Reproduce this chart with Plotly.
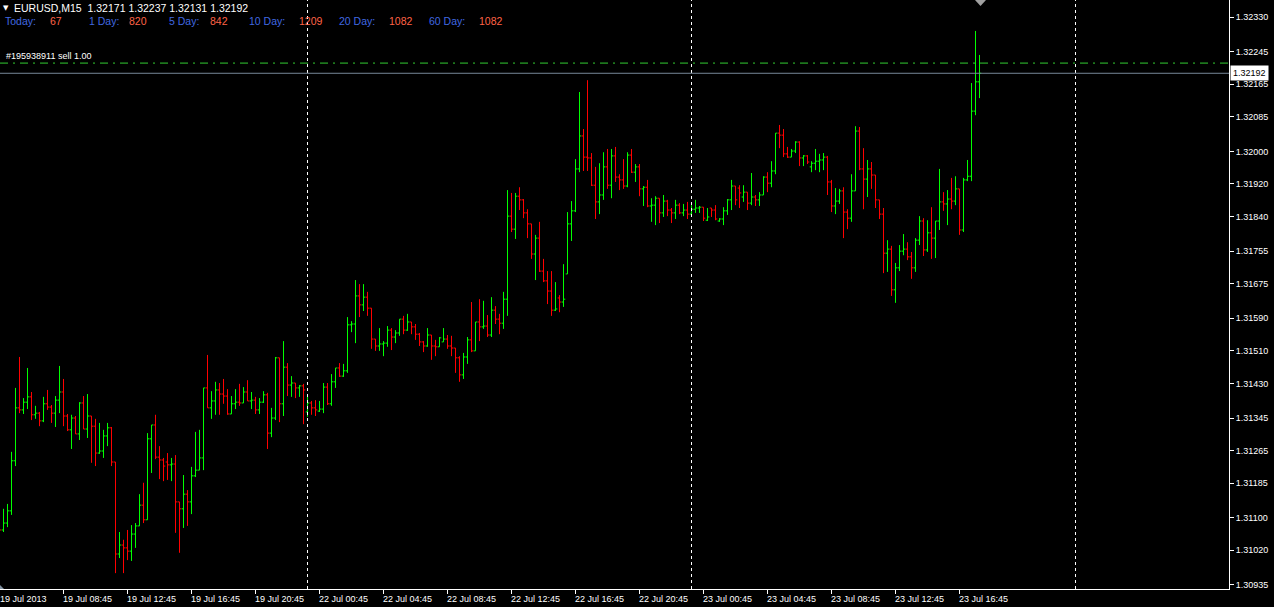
import pandas as pd
import plotly.graph_objects as go

symbol = "EURUSD,M15"

# bar times (weekend skipped, as on the MT4 chart)
times = (list(pd.date_range("2013-07-19 04:45", "2013-07-19 23:45", freq="15min"))
         + list(pd.date_range("2013-07-22 00:00", "2013-07-22 23:45", freq="15min"))
         + list(pd.date_range("2013-07-23 00:00", "2013-07-23 18:00", freq="15min")))

open_ = [
    1.31095, 1.31070, 1.31087, 1.31117, 1.31240, 1.31370, 1.31365, 1.31384, 1.31397, 1.31353,
    1.31357, 1.31338, 1.31380, 1.31372, 1.31357, 1.31389, 1.31409, 1.31350, 1.31316, 1.31345,
    1.31306, 1.31382, 1.31318, 1.31350, 1.31325, 1.31259, 1.31264, 1.31301, 1.31321, 1.31237,
    1.31011, 1.31033, 1.31026, 1.31018, 1.31060, 1.31080, 1.31131, 1.31095, 1.31294, 1.31328,
    1.31249, 1.31242, 1.31237, 1.31230, 1.31232, 1.31139, 1.31122, 1.31158, 1.31139, 1.31203,
    1.31217, 1.31247, 1.31419, 1.31370, 1.31387, 1.31414, 1.31404, 1.31399, 1.31355, 1.31380,
    1.31384, 1.31382, 1.31409, 1.31387, 1.31389, 1.31365, 1.31384, 1.31402, 1.31308, 1.31345,
    1.31493, 1.31380, 1.31470, 1.31426, 1.31431, 1.31419, 1.31424, 1.31360, 1.31382, 1.31370,
    1.31362, 1.31367, 1.31421, 1.31380, 1.31434, 1.31468, 1.31448, 1.31461, 1.31574, 1.31576,
    1.31645, 1.31623, 1.31642, 1.31615, 1.31539, 1.31522, 1.31527, 1.31529, 1.31561, 1.31544,
    1.31554, 1.31588, 1.31561, 1.31581, 1.31569, 1.31551, 1.31532, 1.31522, 1.31549, 1.31522,
    1.31520, 1.31532, 1.31539, 1.31522, 1.31517, 1.31493, 1.31451, 1.31495, 1.31537, 1.31510,
    1.31581, 1.31569, 1.31571, 1.31549, 1.31610, 1.31588, 1.31578, 1.31637, 1.31841, 1.31809,
    1.31890, 1.31881, 1.31849, 1.31822, 1.31748, 1.31787, 1.31706, 1.31682, 1.31657, 1.31610,
    1.31640, 1.31630, 1.31699, 1.31822, 1.31854, 1.31957, 1.32038, 1.31986, 1.31984, 1.31917,
    1.31876, 1.31893, 1.31962, 1.31917, 1.31989, 1.31937, 1.31930, 1.31915, 1.31991, 1.31949,
    1.31962, 1.31908, 1.31912, 1.31866, 1.31868, 1.31885, 1.31849, 1.31878, 1.31856, 1.31849,
    1.31868, 1.31849, 1.31856, 1.31846, 1.31858, 1.31861, 1.31863, 1.31831, 1.31861, 1.31856,
    1.31829, 1.31834, 1.31854, 1.31881, 1.31915, 1.31910, 1.31888, 1.31900, 1.31873, 1.31888,
    1.31881, 1.31893, 1.31937, 1.31922, 1.31952, 1.32045, 1.32040, 1.31994, 1.31986, 1.32001,
    1.32023, 1.31984, 1.31989, 1.31962, 1.31971, 1.31976, 1.31979, 1.31986, 1.31925, 1.31866,
    1.31878, 1.31903, 1.31851, 1.31836, 1.31903, 1.32050, 1.31957, 1.31932, 1.31957, 1.31942,
    1.31881, 1.31846, 1.31750, 1.31760, 1.31660, 1.31714, 1.31755, 1.31760, 1.31741, 1.31714,
    1.31782, 1.31829, 1.31758, 1.31800, 1.31787, 1.31829, 1.31876, 1.31871, 1.31883, 1.31878,
    1.31908, 1.31807, 1.31930, 1.31939, 1.32099, 1.32171,
]

high = [
    1.31131, 1.31122, 1.31134, 1.31262, 1.31419, 1.31495, 1.31394, 1.31468, 1.31409, 1.31375,
    1.31360, 1.31397, 1.31414, 1.31377, 1.31399, 1.31473, 1.31441, 1.31355, 1.31353, 1.31350,
    1.31384, 1.31399, 1.31404, 1.31350, 1.31343, 1.31333, 1.31316, 1.31333, 1.31323, 1.31237,
    1.31065, 1.31046, 1.31070, 1.31082, 1.31087, 1.31158, 1.31186, 1.31308, 1.31328, 1.31353,
    1.31276, 1.31247, 1.31259, 1.31247, 1.31254, 1.31139, 1.31205, 1.31168, 1.31225, 1.31311,
    1.31316, 1.31419, 1.31500, 1.31411, 1.31434, 1.31431, 1.31441, 1.31416, 1.31399, 1.31416,
    1.31429, 1.31421, 1.31438, 1.31409, 1.31397, 1.31394, 1.31411, 1.31407, 1.31370, 1.31495,
    1.31493, 1.31534, 1.31480, 1.31448, 1.31431, 1.31426, 1.31429, 1.31399, 1.31387, 1.31389,
    1.31387, 1.31431, 1.31431, 1.31453, 1.31468, 1.31480, 1.31478, 1.31593, 1.31583, 1.31684,
    1.31674, 1.31674, 1.31655, 1.31615, 1.31539, 1.31566, 1.31534, 1.31571, 1.31566, 1.31561,
    1.31588, 1.31596, 1.31601, 1.31581, 1.31576, 1.31554, 1.31534, 1.31566, 1.31549, 1.31537,
    1.31544, 1.31566, 1.31549, 1.31547, 1.31517, 1.31497, 1.31505, 1.31544, 1.31630, 1.31581,
    1.31637, 1.31633, 1.31598, 1.31642, 1.31620, 1.31601, 1.31655, 1.31905, 1.31898, 1.31898,
    1.31912, 1.31883, 1.31858, 1.31822, 1.31795, 1.31827, 1.31736, 1.31706, 1.31706, 1.31679,
    1.31647, 1.31723, 1.31851, 1.31878, 1.31981, 1.32146, 1.32055, 1.32175, 1.31996, 1.31962,
    1.31971, 1.31998, 1.32006, 1.32006, 1.32011, 1.31944, 1.31981, 1.31998, 1.32006, 1.31969,
    1.31969, 1.31915, 1.31930, 1.31885, 1.31890, 1.31885, 1.31893, 1.31881, 1.31861, 1.31881,
    1.31873, 1.31871, 1.31876, 1.31868, 1.31881, 1.31866, 1.31863, 1.31861, 1.31861, 1.31868,
    1.31836, 1.31863, 1.31883, 1.31930, 1.31915, 1.31917, 1.31917, 1.31900, 1.31947, 1.31893,
    1.31900, 1.31939, 1.31949, 1.31976, 1.32045, 1.32065, 1.32055, 1.32011, 1.32006, 1.32025,
    1.32025, 1.31991, 1.31991, 1.31976, 1.32006, 1.31994, 1.31996, 1.31989, 1.31930, 1.31910,
    1.31908, 1.31912, 1.31858, 1.31944, 1.32062, 1.32060, 1.32008, 1.31979, 1.31974, 1.31942,
    1.31881, 1.31861, 1.31782, 1.31768, 1.31726, 1.31770, 1.31797, 1.31777, 1.31753, 1.31787,
    1.31841, 1.31836, 1.31831, 1.31863, 1.31829, 1.31957, 1.31900, 1.31905, 1.31935, 1.31939,
    1.31908, 1.31935, 1.31979, 1.32168, 1.32296, 1.32237,
]

low = [
    1.31058, 1.31065, 1.31077, 1.31107, 1.31227, 1.31357, 1.31355, 1.31367, 1.31340, 1.31343,
    1.31325, 1.31335, 1.31365, 1.31333, 1.31323, 1.31357, 1.31325, 1.31313, 1.31269, 1.31306,
    1.31291, 1.31318, 1.31296, 1.31235, 1.31227, 1.31257, 1.31247, 1.31276, 1.31227, 1.30964,
    1.31001, 1.30964, 1.30996, 1.30994, 1.31026, 1.31080, 1.31087, 1.31095, 1.31210, 1.31244,
    1.31195, 1.31190, 1.31193, 1.31190, 1.31063, 1.31014, 1.31075, 1.31080, 1.31109, 1.31200,
    1.31217, 1.31217, 1.31370, 1.31343, 1.31353, 1.31353, 1.31380, 1.31353, 1.31355, 1.31367,
    1.31375, 1.31382, 1.31387, 1.31367, 1.31355, 1.31355, 1.31382, 1.31269, 1.31298, 1.31340,
    1.31335, 1.31350, 1.31399, 1.31397, 1.31394, 1.31397, 1.31330, 1.31348, 1.31353, 1.31350,
    1.31360, 1.31357, 1.31377, 1.31375, 1.31419, 1.31446, 1.31446, 1.31456, 1.31556, 1.31529,
    1.31593, 1.31608, 1.31596, 1.31515, 1.31510, 1.31510, 1.31497, 1.31520, 1.31512, 1.31529,
    1.31547, 1.31551, 1.31559, 1.31551, 1.31537, 1.31522, 1.31507, 1.31520, 1.31488, 1.31497,
    1.31520, 1.31532, 1.31515, 1.31497, 1.31456, 1.31434, 1.31441, 1.31478, 1.31507, 1.31510,
    1.31534, 1.31564, 1.31544, 1.31544, 1.31576, 1.31551, 1.31564, 1.31596, 1.31802, 1.31785,
    1.31856, 1.31836, 1.31787, 1.31736, 1.31684, 1.31704, 1.31679, 1.31625, 1.31596, 1.31608,
    1.31605, 1.31618, 1.31699, 1.31780, 1.31851, 1.31949, 1.31952, 1.31952, 1.31915, 1.31834,
    1.31846, 1.31881, 1.31908, 1.31885, 1.31925, 1.31905, 1.31908, 1.31912, 1.31947, 1.31925,
    1.31890, 1.31866, 1.31863, 1.31827, 1.31819, 1.31824, 1.31839, 1.31841, 1.31824, 1.31834,
    1.31846, 1.31841, 1.31834, 1.31844, 1.31849, 1.31849, 1.31829, 1.31829, 1.31839, 1.31831,
    1.31827, 1.31819, 1.31844, 1.31856, 1.31868, 1.31861, 1.31876, 1.31856, 1.31868, 1.31866,
    1.31866, 1.31893, 1.31900, 1.31912, 1.31944, 1.32008, 1.31986, 1.31984, 1.31986, 1.31996,
    1.31964, 1.31964, 1.31969, 1.31949, 1.31954, 1.31949, 1.31954, 1.31893, 1.31851, 1.31846,
    1.31871, 1.31787, 1.31809, 1.31827, 1.31903, 1.31954, 1.31858, 1.31888, 1.31908, 1.31861,
    1.31834, 1.31701, 1.31704, 1.31645, 1.31628, 1.31706, 1.31745, 1.31733, 1.31687, 1.31704,
    1.31770, 1.31743, 1.31753, 1.31736, 1.31738, 1.31807, 1.31854, 1.31819, 1.31858, 1.31868,
    1.31795, 1.31802, 1.31927, 1.31927, 1.32089, 1.32131,
]

close = [
    1.31070, 1.31087, 1.31117, 1.31240, 1.31370, 1.31365, 1.31384, 1.31397, 1.31353, 1.31357,
    1.31338, 1.31380, 1.31372, 1.31357, 1.31389, 1.31409, 1.31350, 1.31316, 1.31345, 1.31306,
    1.31382, 1.31318, 1.31350, 1.31325, 1.31259, 1.31264, 1.31301, 1.31321, 1.31237, 1.31011,
    1.31033, 1.31026, 1.31018, 1.31060, 1.31080, 1.31131, 1.31095, 1.31294, 1.31328, 1.31249,
    1.31242, 1.31227, 1.31230, 1.31232, 1.31139, 1.31122, 1.31158, 1.31139, 1.31203, 1.31217,
    1.31247, 1.31419, 1.31370, 1.31387, 1.31414, 1.31404, 1.31399, 1.31355, 1.31380, 1.31384,
    1.31382, 1.31409, 1.31387, 1.31389, 1.31365, 1.31384, 1.31402, 1.31308, 1.31345, 1.31493,
    1.31380, 1.31470, 1.31426, 1.31431, 1.31419, 1.31424, 1.31414, 1.31382, 1.31370, 1.31365,
    1.31367, 1.31421, 1.31380, 1.31434, 1.31468, 1.31448, 1.31461, 1.31574, 1.31576, 1.31645,
    1.31623, 1.31642, 1.31615, 1.31539, 1.31522, 1.31527, 1.31529, 1.31561, 1.31544, 1.31554,
    1.31588, 1.31561, 1.31581, 1.31569, 1.31551, 1.31532, 1.31522, 1.31549, 1.31522, 1.31520,
    1.31542, 1.31539, 1.31522, 1.31517, 1.31493, 1.31451, 1.31495, 1.31537, 1.31510, 1.31581,
    1.31569, 1.31571, 1.31549, 1.31610, 1.31588, 1.31578, 1.31637, 1.31841, 1.31809, 1.31890,
    1.31881, 1.31849, 1.31822, 1.31748, 1.31787, 1.31706, 1.31682, 1.31657, 1.31610, 1.31613,
    1.31630, 1.31637, 1.31822, 1.31854, 1.31957, 1.32038, 1.31986, 1.31984, 1.31917, 1.31876,
    1.31893, 1.31962, 1.31917, 1.31989, 1.31937, 1.31930, 1.31915, 1.31991, 1.31949, 1.31962,
    1.31908, 1.31912, 1.31866, 1.31868, 1.31885, 1.31849, 1.31878, 1.31856, 1.31849, 1.31868,
    1.31849, 1.31856, 1.31846, 1.31858, 1.31861, 1.31863, 1.31836, 1.31839, 1.31856, 1.31834,
    1.31834, 1.31854, 1.31881, 1.31915, 1.31881, 1.31898, 1.31900, 1.31873, 1.31888, 1.31881,
    1.31893, 1.31937, 1.31922, 1.31952, 1.32045, 1.32040, 1.31994, 1.31986, 1.32001, 1.32023,
    1.31984, 1.31989, 1.31974, 1.31971, 1.31976, 1.31979, 1.31986, 1.31925, 1.31866, 1.31878,
    1.31903, 1.31851, 1.31836, 1.31903, 1.32050, 1.31957, 1.31932, 1.31957, 1.31942, 1.31881,
    1.31846, 1.31750, 1.31760, 1.31660, 1.31714, 1.31755, 1.31760, 1.31741, 1.31714, 1.31782,
    1.31829, 1.31758, 1.31800, 1.31787, 1.31829, 1.31876, 1.31871, 1.31883, 1.31878, 1.31908,
    1.31807, 1.31930, 1.31939, 1.32099, 1.32171, 1.32192,
]

price_ticks = [1.32330, 1.32245, 1.32165, 1.32085, 1.32000, 1.31920, 1.31840, 1.31755, 1.31675,
               1.31590, 1.31510, 1.31430, 1.31345, 1.31265, 1.31185, 1.31100, 1.31020, 1.30935]

range_labels = ["Today:", "1 Day:", "5 Day:", "10 Day:", "20 Day:", "60 Day:"]
range_values = [67, 820, 842, 1209, 1082, 1082]

order_label = "#195938911 sell 1.00"
order_price = 1.32217
bid_price = close[-1]

n = min(len(times), len(open_), len(high), len(low), len(close))
times = times[:n]
x = list(range(n))

FONT = "Liberation Sans"
W_PLOT, H_PLOT = 1229, 589

fig = go.Figure(go.Ohlc(
    x=x, open=open_[:n], high=high[:n], low=low[:n], close=close[:n],
    increasing=dict(line=dict(color="#00ff00", width=1)),
    decreasing=dict(line=dict(color="#ff0000", width=1)),
    tickwidth=0.45, hoverinfo="skip",
))

# x ticks every 4 hours at hh:45
tick_idx = [i for i, t in enumerate(times) if t.minute == 45 and t.hour % 4 == 0]
day_starts = [i for i, t in enumerate(times) if t.hour == 0 and t.minute == 0]
day_starts.append(day_starts[-1] + 96)

annotations = []
for i in tick_idx:
    t = times[i]
    if i == 0:
        annotations.append(dict(x=0, xref="paper", y=0, yref="paper", xanchor="left", yanchor="top",
                                text=t.strftime("%d %b %Y"), showarrow=False, yshift=-3, xshift=-2,
                                font=dict(family=FONT, size=9, color="white")))
    else:
        annotations.append(dict(x=i, xref="x", y=0, yref="paper", xanchor="left", yanchor="top",
                                text=t.strftime("%d %b %H:%M"), showarrow=False, yshift=-3, xshift=-3,
                                font=dict(family=FONT, size=9, color="white")))

def px_x(p):
    return p / W_PLOT

def px_y(p):
    return 1 - p / H_PLOT

# header
annotations.append(dict(x=px_x(1), y=px_y(8), xref="paper", yref="paper", xanchor="left", yanchor="middle",
                        text="▼", showarrow=False, font=dict(family="DejaVu Sans", size=7, color="white")))
annotations.append(dict(x=px_x(12), y=px_y(8), xref="paper", yref="paper", xanchor="left", yanchor="middle",
                        text=f"{symbol}  {open_[n-1]:.5f} {high[n-1]:.5f} {low[n-1]:.5f} {close[n-1]:.5f}",
                        showarrow=False, font=dict(family=FONT, size=10.5, color="white")))
label_x = [3, 87, 167, 247, 337, 427]
value_x = [48, 127, 208, 297, 387, 477]
for lab, lx, val, vx in zip(range_labels, label_x, range_values, value_x):
    annotations.append(dict(x=px_x(lx), y=px_y(21), xref="paper", yref="paper", xanchor="left", yanchor="middle",
                            text=lab, showarrow=False, font=dict(family=FONT, size=10.5, color="#4169e1")))
    annotations.append(dict(x=px_x(vx), y=px_y(21), xref="paper", yref="paper", xanchor="left", yanchor="middle",
                            text=str(val), showarrow=False, font=dict(family=FONT, size=10.5, color="#ff6347")))

annotations.append(dict(x=px_x(4), y=order_price, xref="paper", yref="y", xanchor="left", yanchor="bottom",
                        text=order_label, showarrow=False, yshift=0,
                        font=dict(family=FONT, size=9, color="white")))

# current price tag
annotations.append(dict(x=1, y=bid_price, xref="paper", yref="y", xanchor="left", yanchor="middle",
                        text=f"{bid_price:.5f}", showarrow=False, xshift=1, bgcolor="white", borderpad=2,
                        font=dict(family=FONT, size=9, color="black")))

shapes = []
for d in day_starts:
    shapes.append(dict(type="line", xref="x", yref="paper", x0=d, x1=d, y0=0, y1=1,
                       line=dict(color="white", width=1, dash="3px,3px")))
shapes.append(dict(type="line", xref="paper", yref="y", x0=0, x1=1, y0=bid_price, y1=bid_price,
                   line=dict(color="#778899", width=1)))
shapes.append(dict(type="line", xref="paper", yref="y", x0=0, x1=1, y0=order_price, y1=order_price,
                   line=dict(color="#32cd32", width=1, dash="8px,5px,2px,5px")))
# chart-shift marker and corner marker
shapes.append(dict(type="path", xref="paper", yref="paper",
                   path=f"M {px_x(975)} 1 L {px_x(986)} 1 L {px_x(980.5)} {px_y(6)} Z",
                   fillcolor="#a0a0a0", line=dict(width=0)))
shapes.append(dict(type="path", xref="paper", yref="paper",
                   path=f"M 0 0 L {px_x(4)} 0 L 0 {1 - px_y(4)} Z",
                   fillcolor="#8090a0", line=dict(width=0)))

fig.update_layout(
    width=1274, height=607,
    margin=dict(l=0, r=45, t=0, b=18),
    paper_bgcolor="black", plot_bgcolor="black",
    showlegend=False, hovermode=False,
    annotations=annotations, shapes=shapes,
    xaxis=dict(range=[0.125, 307.375], showgrid=False, zeroline=False,
               showline=True, linecolor="white", linewidth=1,
               tickvals=tick_idx, ticktext=["" for _ in tick_idx],
               ticks="outside", ticklen=4, tickcolor="white", tickwidth=1,
               rangeslider=dict(visible=False), fixedrange=True),
    yaxis=dict(range=[1.30925, 1.32372], side="right", showgrid=False, zeroline=False,
               showline=True, linecolor="white", linewidth=1,
               tickvals=price_ticks, ticktext=[f"{v:.5f}" for v in price_ticks],
               ticks="outside", ticklen=4, tickcolor="white", tickwidth=1,
               tickfont=dict(family=FONT, size=9, color="white"), fixedrange=True),
)

fig.write_html("out.html", config={"displayModeBar": False},
               post_script="document.body.style.margin='0';document.body.style.background='black';")
